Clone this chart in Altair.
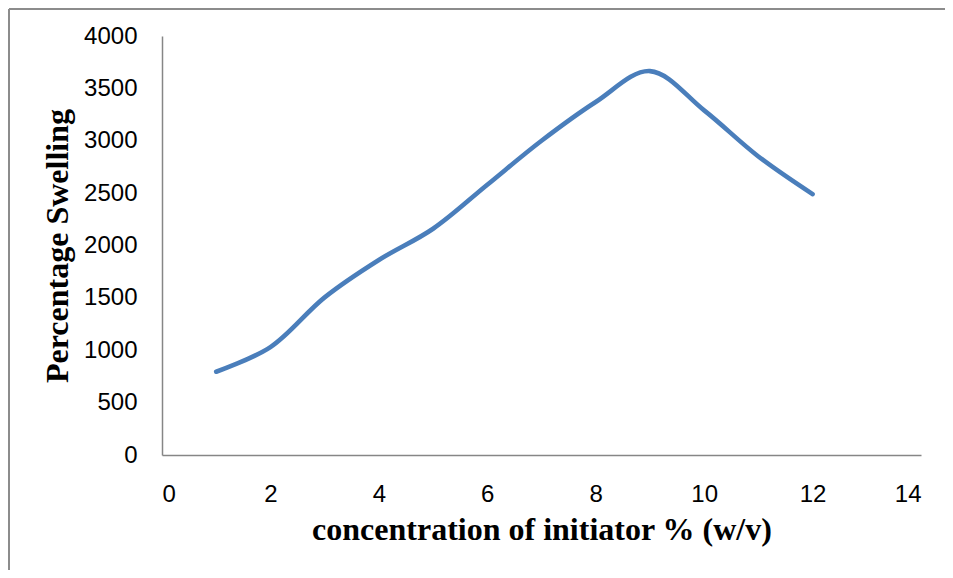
import altair as alt
import pandas as pd

concentration = [1, 2, 3, 4, 5, 6, 7, 8, 9, 10, 11, 12]
swelling = [795, 1030, 1505, 1862, 2160, 2580, 3000, 3370, 3665, 3290, 2850, 2490]

df = pd.DataFrame({"x": concentration, "y": swelling})

base = alt.Chart(df)

line = base.mark_line(
    interpolate="catmull-rom", color="#4a7ebb", strokeWidth=4.6, strokeCap="round"
).encode(
    x=alt.X(
        "x:Q",
        scale=alt.Scale(domain=[0, 14], nice=False),
        axis=alt.Axis(
            values=[0, 2, 4, 6, 8, 10, 12, 14],
            format="d",
            title="concentration of initiator % (w/v)",
            grid=False,
            ticks=False,
            domainColor="#868686",
            domainWidth=1.5,
            labelFont="Liberation Sans",
            labelFontSize=24,
            labelColor="#000000",
            labelPadding=27,
            titleFont="Liberation Serif",
            titleFontSize=32,
            titleFontWeight="bold",
            titleColor="#000000",
            titlePadding=8,
        ),
    ),
    y=alt.Y(
        "y:Q",
        scale=alt.Scale(domain=[0, 4000], nice=False),
        axis=alt.Axis(
            values=[0, 500, 1000, 1500, 2000, 2500, 3000, 3500, 4000],
            format="d",
            title="Percentage Swelling",
            grid=False,
            ticks=False,
            domainColor="#868686",
            domainWidth=1.5,
            labelFont="Liberation Sans",
            labelFontSize=24,
            labelColor="#000000",
            labelPadding=25,
            titleFont="Liberation Serif",
            titleFontSize=32,
            titleFontWeight="bold",
            titleColor="#000000",
            titlePadding=9,
        ),
    ),
)

border_left = base.mark_rule(stroke="#8c8c8c", strokeWidth=1.5).encode(
    x=alt.value(-153), y=alt.value(-27), y2=alt.value(560)
)
border_top = base.mark_rule(stroke="#8c8c8c", strokeWidth=1.5).encode(
    x=alt.value(-153), x2=alt.value(800), y=alt.value(-27)
)

chart = (
    alt.layer(border_left, border_top, line)
    .properties(
        width=759,
        height=419,
        background="white",
        autosize=alt.AutoSizeParams(type="none"),
        padding={"left": 154, "top": 28, "right": 24, "bottom": 115},
    )
    .configure_view(stroke="transparent", clip=False)
)

chart.save("out.html", embed_options={"renderer": "svg", "actions": False})
